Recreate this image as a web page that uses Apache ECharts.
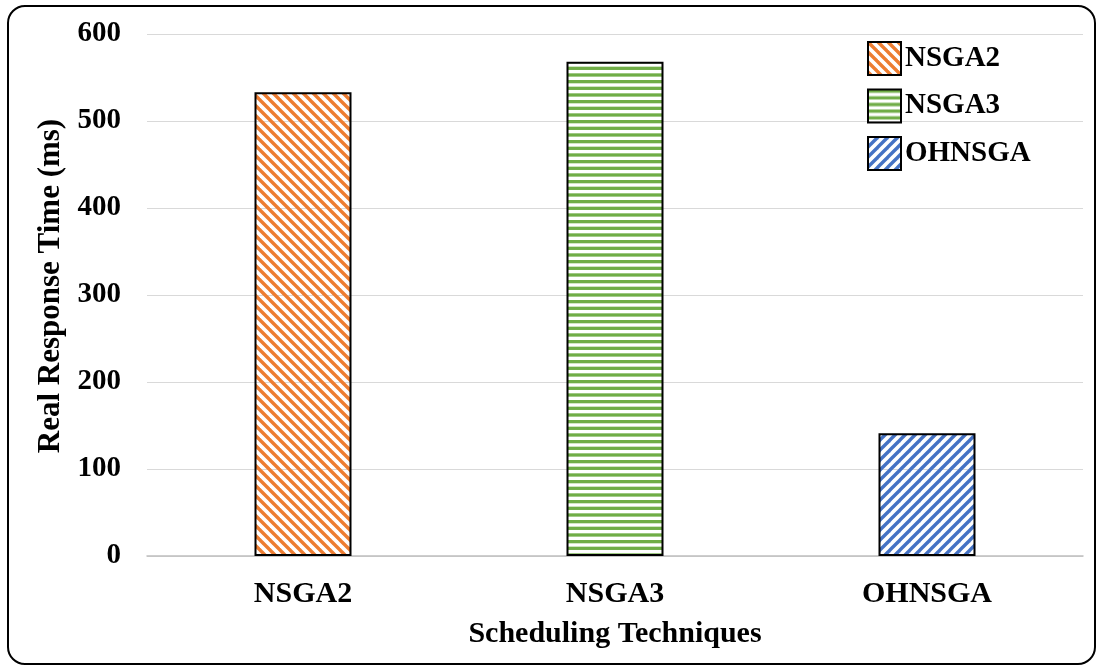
<!DOCTYPE html>
<html>
<head>
<meta charset="utf-8">
<script src="https://cdn.jsdelivr.net/npm/echarts@6/dist/echarts.min.js"></script>
<style>
html,body{margin:0;padding:0;background:#fff;}
#frame{position:absolute;left:7px;top:5px;width:1089px;height:660px;border:2.5px solid #000;border-radius:18px;box-sizing:border-box;}
#chart{position:absolute;left:0;top:0;width:1102px;height:671px;}
</style>
</head>
<body>
<div id="frame"></div>
<div id="chart"></div>
<script>
const categories = ['NSGA2', 'NSGA3', 'OHNSGA'];
const seriesNames = ['NSGA2', 'NSGA3', 'OHNSGA'];
const values = [533, 568, 141];
const yTicks = [0, 100, 200, 300, 400, 500, 600];
const colors = ['#ED7D31', '#70AD47', '#4472C4'];

function diagPattern(color, dir) {
  const s = 10;
  const c = document.createElement('canvas');
  c.width = s; c.height = s;
  const g = c.getContext('2d');
  g.strokeStyle = color; g.lineWidth = 3.4;
  for (let k = -1; k <= 1; k++) {
    g.beginPath();
    if (dir === 'back') { g.moveTo(k * s - 2, -2); g.lineTo(k * s + s + 2, s + 2); }
    else { g.moveTo(k * s - 2, s + 2); g.lineTo(k * s + s + 2, -2); }
    g.stroke();
  }
  return { image: c, repeat: 'repeat' };
}
function horizPattern(color) {
  const c = document.createElement('canvas');
  c.width = 4; c.height = 20;
  const g = c.getContext('2d');
  g.fillStyle = color;
  for (let i = 0; i < 3; i++) g.fillRect(0, i * 20 / 3, 4, 3.3);
  return { image: c, repeat: 'repeat' };
}
const patterns = [diagPattern(colors[0], 'back'), horizPattern(colors[1]), diagPattern(colors[2], 'fwd')];

const font = '"Liberation Serif", "Times New Roman", serif';
const chart = echarts.init(document.getElementById('chart'), null, { renderer: 'canvas' });

const series = seriesNames.map((name, i) => ({
  name: name,
  type: 'bar',
  barWidth: 97,
  barGap: '-100%',
  data: categories.map((c, j) => (j === i ? values[i] : '-')),
  itemStyle: { color: patterns[i], borderColor: '#000', borderWidth: 2 }
}));

chart.setOption({
  animation: false,
  textStyle: { fontFamily: font },
  grid: { left: 147, right: 19, top: 34, bottom: 115 },
  legend: {
    orient: 'vertical',
    left: 862,
    top: 36,
    itemWidth: 33,
    itemHeight: 33,
    itemGap: 12.5,
    icon: 'rect',
    textStyle: { fontFamily: font, fontWeight: 'bold', fontSize: 29, color: '#000', padding: [0, 0, 0, -1] },
    data: seriesNames
  },
  xAxis: {
    type: 'category',
    data: categories,
    name: 'Scheduling Techniques',
    nameLocation: 'middle',
    nameGap: 63,
    nameTextStyle: { fontFamily: font, fontWeight: 'bold', fontSize: 30, color: '#000' },
    axisLine: { lineStyle: { color: '#bfbfbf', width: 1.5 } },
    axisTick: { show: false },
    axisLabel: { fontFamily: font, fontWeight: 'bold', fontSize: 30, color: '#000', margin: 23 }
  },
  yAxis: {
    type: 'value',
    min: yTicks[0],
    max: yTicks[yTicks.length - 1],
    interval: 100,
    name: 'Real Response Time (ms)',
    nameLocation: 'middle',
    nameGap: 79,
    nameTextStyle: { fontFamily: font, fontWeight: 'bold', fontSize: 31, color: '#000', padding: [0, 0, 0, 18] },
    axisLine: { show: false },
    axisTick: { show: false },
    splitLine: { lineStyle: { color: '#d9d9d9', width: 1 } },
    axisLabel: { fontFamily: font, fontWeight: 'bold', fontSize: 29, color: '#000', margin: 26, padding: [4, 0, 0, 0] }
  },
  series: series
});
</script>
</body>
</html>
